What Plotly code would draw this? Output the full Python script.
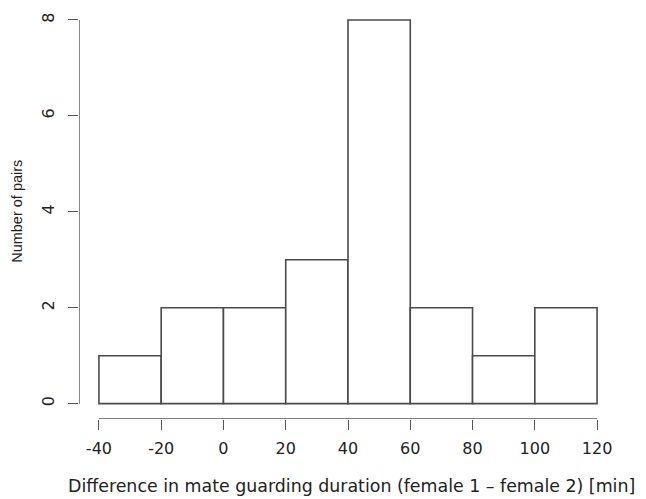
import plotly.graph_objects as go

bin_edges = [-40, -20, 0, 20, 40, 60, 80, 100, 120]
counts = [1, 2, 2, 3, 8, 2, 1, 2]
x_ticks = [-40, -20, 0, 20, 40, 60, 80, 100, 120]
y_ticks = [0, 2, 4, 6, 8]
x_title = "Difference in mate guarding duration (female 1 \u2013 female 2) [min]"
y_title = "Number of pairs"

centers = [(a + b) / 2 for a, b in zip(bin_edges[:-1], bin_edges[1:])]
widths = [b - a for a, b in zip(bin_edges[:-1], bin_edges[1:])]

xspan = bin_edges[-1] - bin_edges[0]
xr = [bin_edges[0] - 0.04 * xspan, bin_edges[-1] + 0.04 * xspan]
ymax = max(y_ticks)
yr = [-0.04 * ymax, ymax + 0.25]

axis_col = "#555555"
txt_col = "#222222"
font_fam = "DejaVu Sans"

# page has an 8px body margin, so the figure fills the rest of the window
W, H = 638, 491
ML, MR, MT = 71, 29, 0
plot_h = 48 * (yr[1] - yr[0])
MB = H - MT - plot_h

fig = go.Figure()
fig.add_trace(go.Bar(
    x=centers, y=counts, width=widths,
    marker=dict(color="white", line=dict(color="#4a4a4a", width=1.6)),
    hoverinfo="skip",
))

# R-style axis lines spanning only the tick range
fig.add_shape(type="line", xref="x", yref="y", x0=xr[0], x1=xr[0], y0=y_ticks[0], y1=y_ticks[-1],
              line=dict(color=axis_col, width=1.4))
fig.add_shape(type="line", xref="x", yref="y", x0=x_ticks[0], x1=x_ticks[-1], y0=yr[0], y1=yr[0],
              line=dict(color=axis_col, width=1.4))

# axis titles as annotations
fig.add_annotation(text=x_title, xref="paper", yref="paper", x=0.5, y=0,
                   xanchor="center", yanchor="middle", yshift=-67, xshift=3,
                   showarrow=False, font=dict(family=font_fam, size=17.4, color=txt_col))
fig.add_annotation(text=y_title, xref="paper", yref="y", x=0, y=4,
                   xanchor="center", yanchor="middle", xshift=-62, textangle=-90,
                   showarrow=False,
                   font=dict(family="Liberation Sans", size=14.5, color=txt_col))

fig.update_layout(
    width=W, height=H,
    margin=dict(l=ML, r=MR, t=MT, b=MB, pad=0, autoexpand=False),
    plot_bgcolor="white", paper_bgcolor="white",
    showlegend=False,
    font=dict(family=font_fam, size=16, color=txt_col),
    xaxis=dict(range=xr, tickvals=x_ticks, ticktext=[str(v) for v in x_ticks],
               showgrid=False, zeroline=False, showline=False, automargin=False,
               ticks="outside", ticklen=10, tickwidth=1.4, tickcolor=axis_col,
               ticklabelstandoff=5,
               tickfont=dict(family=font_fam, size=16, color=txt_col)),
    yaxis=dict(range=yr, tickvals=y_ticks, ticktext=[str(v) for v in y_ticks],
               showgrid=False, zeroline=False, showline=False, automargin=False,
               ticks="outside", ticklen=10, tickwidth=1.4, tickcolor=axis_col,
               tickangle=-90, ticklabelstandoff=8,
               tickfont=dict(family=font_fam, size=16, color=txt_col)),
)

fig.write_html("out.html")
